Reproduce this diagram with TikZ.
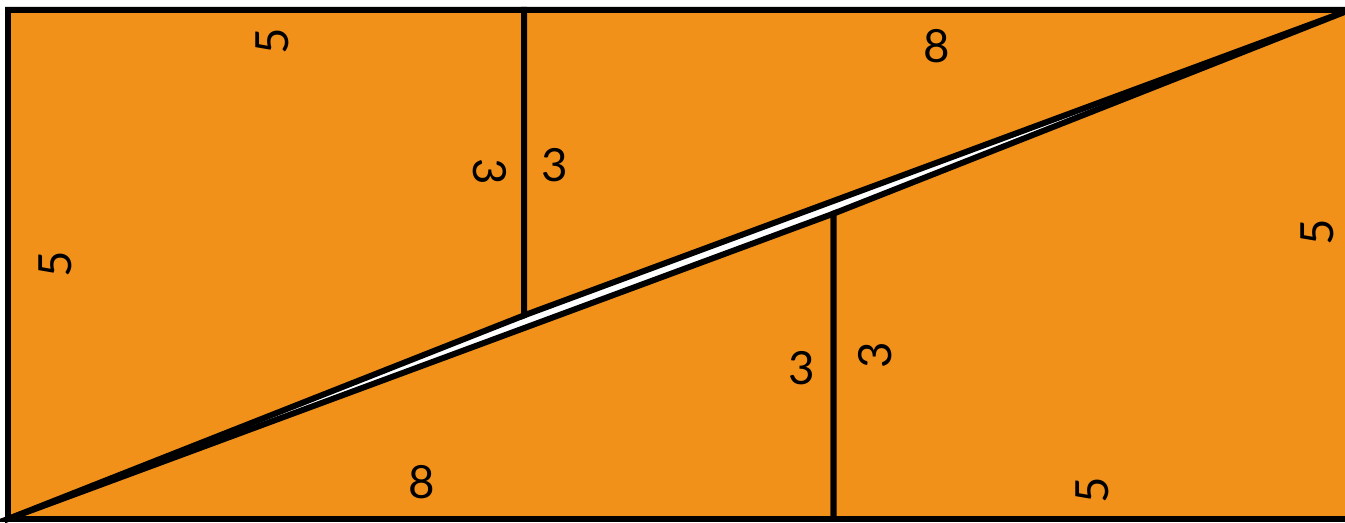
\documentclass[tikz,border=0pt]{standalone}
\usepackage{fontspec}
\setmainfont{Lato}
\definecolor{tileorange}{RGB}{242,145,26}
\begin{document}
\begin{tikzpicture}[
  x=1.032cm, y=1.018cm,
  piece/.style={fill=tileorange, draw=black, line width=1.7pt},
  num/.style={font=\fontsize{13}{15}\selectfont, inner sep=0pt},
  numup/.style={num, rotate=90},
  numdown/.style={num, rotate=-90}
]
\useasboundingbox (-0.0775,-0.039) rectangle (12.955,5.098);
\fill[white] (-0.0775,-0.039) rectangle (12.955,5.098);

\coordinate (bl) at (0,0);
\coordinate (tl) at (0,5);
\coordinate (tm) at (5,5);
\coordinate (ma) at (5,2);
\coordinate (mb) at (8,3);
\coordinate (bm) at (8,0);
\coordinate (br) at (13,0);
\coordinate (tr) at (13,5);

\draw[piece] (bl) -- (ma) -- (tm) -- (tl) -- cycle;
\draw[piece] (ma) -- (tr) -- (tm) -- cycle;
\draw[piece] (bl) -- (bm) -- (mb) -- cycle;
\draw[piece] (bm) -- (br) -- (tr) -- (mb) -- cycle;

\node[numup] (topfive) at (2.56,4.69) {5};
\node[numup] (leftfive) at (0.455,2.50) {5};
\node[numdown] (ltrap3) at (4.67,3.41) {3};
\node[num] (rtri3) at (5.30,3.48) {3};
\node[num] (topeight) at (9.0,4.64) {8};
\node[numup] (rightfive) at (12.69,2.82) {5};
\node[num] (boteight) at (4.01,0.36) {8};
\node[num] (ltri3) at (7.69,1.48) {3};
\node[numup] (rtrap3) at (8.40,1.61) {3};
\node[numup] (botfive) at (10.51,0.28) {5};
\end{tikzpicture}
\end{document}
